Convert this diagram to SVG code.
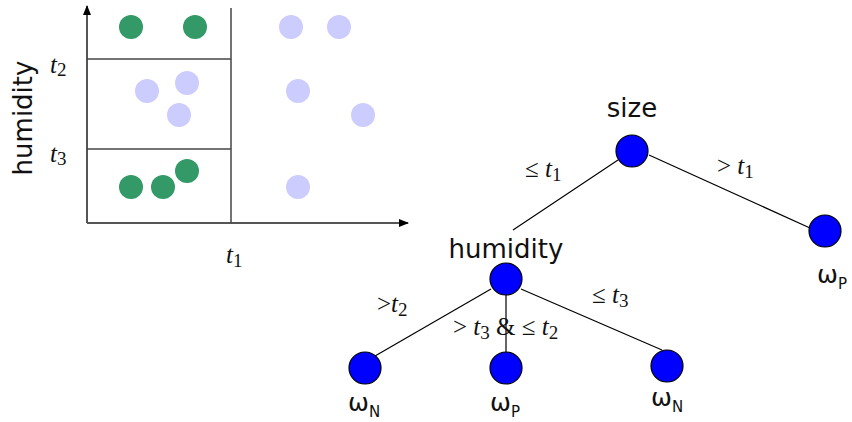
<svg xmlns="http://www.w3.org/2000/svg" width="852" height="422" viewBox="0 0 852 422">
<style>
.g{fill:#339966}
.l{fill:#ccccff}
.ax{stroke:#555;stroke-width:2;fill:none}
.sp{stroke:#444;stroke-width:1.5;fill:none}
.e{stroke:#000;stroke-width:1.2;fill:none}
.n{fill:#0000ff;stroke:#000;stroke-width:1.2}
.t{font-family:"Liberation Serif",serif;font-size:25px;fill:#111}
.ti{font-style:italic}
.sb{font-size:19px}
.s{font-family:"DejaVu Sans",sans-serif;font-size:26px;fill:#111}
.w{font-family:"DejaVu Sans",sans-serif;font-size:25px;fill:#111}
.ws{font-size:15px}
</style>
<defs>
<marker id="ah" viewBox="0 0 10 10" refX="9" refY="5" markerWidth="10" markerHeight="10" markerUnits="userSpaceOnUse" orient="auto">
<path d="M0,1 L10,5 L0,9 z" fill="#000"/>
</marker>
</defs>
<g id="plot">
<line class="ax" x1="87" y1="223" x2="87" y2="6" marker-end="url(#ah)"/>
<line class="ax" x1="87" y1="223" x2="408" y2="223" marker-end="url(#ah)"/>
<line class="sp" x1="231" y1="8" x2="231" y2="223"/>
<line class="sp" x1="87" y1="59" x2="231" y2="59"/>
<line class="sp" x1="87" y1="149" x2="231" y2="149"/>
<circle class="g" cx="131" cy="27" r="12"/>
<circle class="g" cx="195" cy="27" r="12"/>
<circle class="g" cx="131" cy="187" r="12"/>
<circle class="g" cx="163" cy="187" r="12"/>
<circle class="g" cx="187" cy="171" r="12"/>
<circle class="l" cx="291" cy="27" r="12"/>
<circle class="l" cx="339" cy="27" r="12"/>
<circle class="l" cx="147" cy="91" r="12"/>
<circle class="l" cx="187" cy="83" r="12"/>
<circle class="l" cx="179" cy="115" r="12"/>
<circle class="l" cx="298" cy="91" r="12"/>
<circle class="l" cx="363" cy="115" r="12"/>
<circle class="l" cx="298" cy="187" r="12"/>
<text class="t" x="50" y="73"><tspan class="ti">t</tspan><tspan class="sb" dy="3">2</tspan></text>
<text class="t" x="50" y="162"><tspan class="ti">t</tspan><tspan class="sb" dy="3">3</tspan></text>
<text class="t" x="226" y="263"><tspan class="ti">t</tspan><tspan class="sb" dy="4">1</tspan></text>
<text class="s" transform="translate(32,118) rotate(-90)" text-anchor="middle" font-size="27">humidity</text>
</g>
<g id="edges">
<line class="e" x1="618" y1="160" x2="513" y2="230"/>
<line class="e" x1="649" y1="155" x2="810" y2="228"/>
<line class="e" x1="491" y1="289" x2="375" y2="356"/>
<line x1="506" y1="295" x2="506" y2="352" stroke="#666" stroke-width="2"/>
<line class="e" x1="521" y1="289" x2="662" y2="350"/>
<text class="t" x="525" y="177">≤ <tspan class="ti">t</tspan><tspan class="sb" dy="4">1</tspan></text>
<text class="t" x="717" y="174">&gt; <tspan class="ti">t</tspan><tspan class="sb" dy="4">1</tspan></text>
<text class="t" x="377" y="312">&gt;<tspan class="ti">t</tspan><tspan class="sb" dy="4">2</tspan></text>
<text class="t" x="453" y="335">&gt; <tspan class="ti">t</tspan><tspan class="sb" dy="4">3</tspan><tspan dy="-4"> &amp; ≤ </tspan><tspan class="ti">t</tspan><tspan class="sb" dy="4">2</tspan></text>
<text class="t" x="592" y="303">≤ <tspan class="ti">t</tspan><tspan class="sb" dy="4">3</tspan></text>
</g>
<g id="size">
<circle class="n" cx="632" cy="151" r="16"/>
<text class="s" x="632" y="117" text-anchor="middle">size</text>
</g>
<g id="humidity">
<circle class="n" cx="506" cy="279" r="16"/>
<text class="s" x="506" y="258" text-anchor="middle">humidity</text>
</g>
<g id="leafP1">
<circle class="n" cx="825" cy="231" r="16"/>
<text class="w" x="817" y="283">ω<tspan class="ws" dy="6">P</tspan></text>
</g>
<g id="leafN1">
<circle class="n" cx="365" cy="368" r="16"/>
<text class="w" x="348" y="411">ω<tspan class="ws" dy="6">N</tspan></text>
</g>
<g id="leafP2">
<circle class="n" cx="506" cy="368" r="16"/>
<text class="w" x="490" y="411">ω<tspan class="ws" dy="6">P</tspan></text>
</g>
<g id="leafN2">
<circle class="n" cx="667" cy="366" r="16"/>
<text class="w" x="651" y="406">ω<tspan class="ws" dy="6">N</tspan></text>
</g>
</svg>
